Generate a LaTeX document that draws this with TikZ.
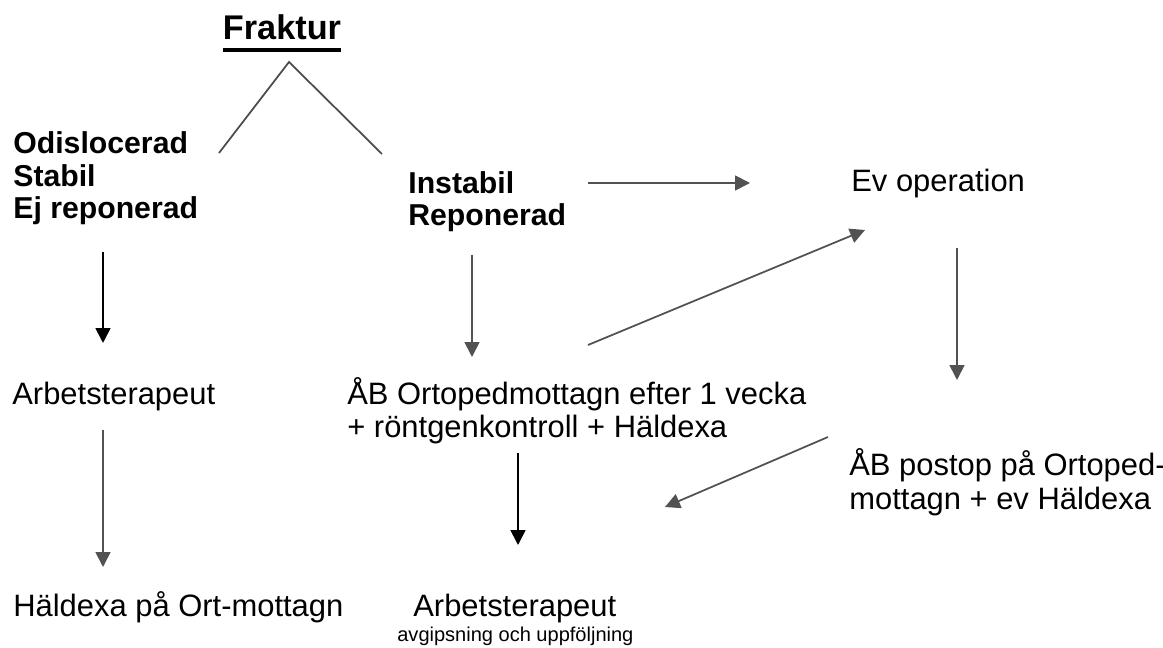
\documentclass[tikz,border=0pt]{standalone}
\usepackage{fontspec}
\setmainfont{Liberation Sans}
\usetikzlibrary{arrows.meta}

\tikzset{txt/.style={anchor=base west,inner sep=0pt,align=left,
                     font=\fontsize{17.6}{19.2}\selectfont}}
\tikzset{hdr/.style={txt,font=\fontsize{17.2}{18.6}\selectfont\bfseries}}
\tikzset{small/.style={txt,font=\fontsize{11.4}{13}\selectfont}}
\tikzset{arr/.style={-{Triangle[length=8.5pt,width=8.5pt]},line width=1pt}}
\tikzset{grayarr/.style={arr,draw=black!68}}
\tikzset{branch/.style={line width=1pt,draw=black!70}}

\begin{document}
\begin{tikzpicture}[x=0.02cm,y=-0.02cm]
    \useasboundingbox (0,0) rectangle (1163,648);
    % Texts
    \node[anchor=base,inner sep=0pt,font=\fontsize{19.5}{20}\selectfont\bfseries]
         (frak) at (282,40) {Fraktur};
    \draw[line width=1.9pt] ([yshift=-5.7pt]frak.base west) -- ([yshift=-5.7pt]frak.base east);
    \node[hdr] (odis) at (13,219) {Odislocerad\\Stabil\\Ej reponerad};
    \node[hdr] (inst) at (408,226) {Instabil\\Reponerad};
    \node[txt] (evop) at (851,192) {Ev operation};
    \node[txt] (arb1) at (12,405) {Arbetsterapeut};
    \node[txt] (abort) at (347,438) {ÅB Ortopedmottagn efter 1 vecka\\+ röntgenkontroll + Häldexa};
    \node[txt] (abpost) at (849,509) {ÅB postop på Ortoped-\\mottagn + ev Häldexa};
    \node[txt] (hald) at (13,616) {Häldexa på Ort-mottagn};
    \node[txt] (arb2) at (413,616) {Arbetsterapeut};
    \node[small] (avg) at (397,641) {avgipsning och uppföljning};
    % Ends of the connectors
    \coordinate (vtop) at (289,62);
    \coordinate (vleft) at (219,153);
    \coordinate (vright) at (382,154);
    \coordinate (odisout) at (103,252);
    \coordinate (arbin) at (103,343);
    \coordinate (arbout) at (103,430);
    \coordinate (haldin) at (103,567);
    \coordinate (instout) at (472,255);
    \coordinate (abortin) at (472,357);
    \coordinate (instright) at (588,183);
    \coordinate (evopin) at (750,183);
    \coordinate (abortup) at (588,345);
    \coordinate (evopdiag) at (865,230);
    \coordinate (abortout) at (518,453);
    \coordinate (arbtwoin) at (518,545);
    \coordinate (evopout) at (957,248);
    \coordinate (abpostin) at (957,380);
    \coordinate (abpostout) at (828,437);
    \coordinate (arbtwodiag) at (665,507);
    % Connectors
    \draw[branch] (vleft) -- (vtop) -- (vright);
    \draw[arr] (odisout) -- (arbin);
    \draw[arr] (abortout) -- (arbtwoin);
    \foreach \a/\b in {arbout/haldin,instout/abortin,instright/evopin,
                       abortup/evopdiag,evopout/abpostin,abpostout/arbtwodiag}{%
          \draw[grayarr] (\a) -- (\b);
        }
\end{tikzpicture}
\end{document}
